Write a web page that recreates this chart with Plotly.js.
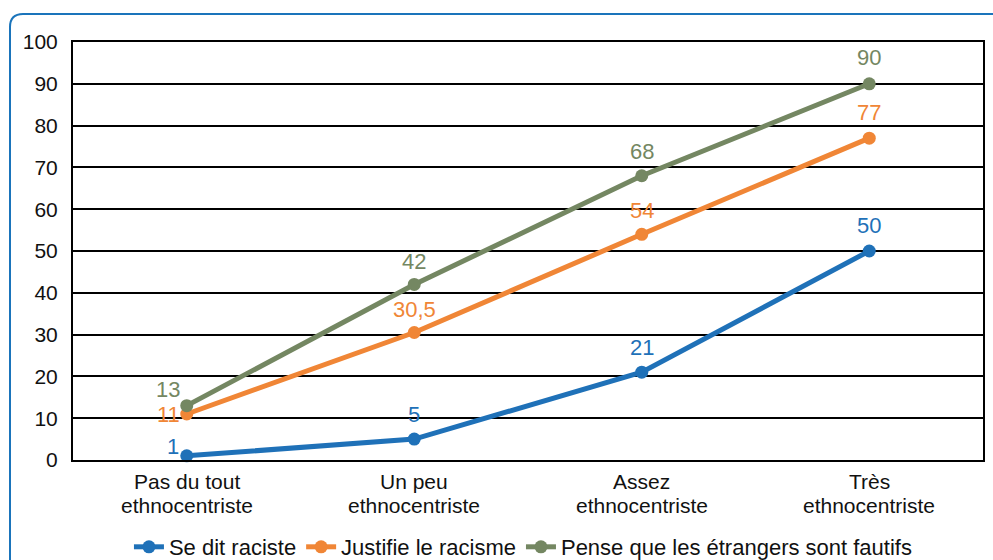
<!DOCTYPE html>
<html>
<head>
<meta charset="utf-8">
<script src="https://cdn.plot.ly/plotly-3.0.1.min.js"></script>
<style>
  html, body { margin: 0; padding: 0; background: #ffffff; }
  #chart { width: 993px; height: 560px; }
</style>
</head>
<body>
<div id="chart"></div>
<script>
// ---- Data ----
const categories = ['Pas du tout<br>ethnocentriste', 'Un peu<br>ethnocentriste', 'Assez<br>ethnocentriste', 'Très<br>ethnocentriste'];
const seriesNames = ['Se dit raciste', 'Justifie le racisme', 'Pense que les étrangers sont fautifs'];
const seDitRaciste = [1, 5, 21, 50];
const justifieRacisme = [11, 30.5, 54, 77];
const penseEtrangersFautifs = [13, 42, 68, 90];
const yTickValues = [0, 10, 20, 30, 40, 50, 60, 70, 80, 90, 100];

// ---- Styles ----
const FONT = "'Liberation Sans', Arial, sans-serif";
const colors = ['#1f71b8', '#f08636', '#748762'];
// label offsets in pixels [dx, dy] relative to each point
const labelOffsets = [
  [[-14, 9], [0, 25], [0, 25], [0, 26]],
  [[-18, 0], [0, 23], [0, 24], [0, 26]],
  [[-19, 16], [0, 23], [0, 24], [0, 26]]
];
const seriesValues = [seDitRaciste, justifieRacisme, penseEtrangersFautifs];

const fmt = v => String(v).replace('.', ',');

const traces = seriesValues.map((vals, i) => ({
  type: 'scatter',
  mode: 'lines+markers',
  name: seriesNames[i],
  x: categories,
  y: vals,
  line: { color: colors[i], width: 5 },
  marker: { color: colors[i], size: 13 },
  cliponaxis: false,
  hoverinfo: 'x+y'
}));

const annotations = [];
// data labels
seriesValues.forEach((vals, i) => {
  vals.forEach((v, k) => {
    annotations.push({
      x: categories[k], xref: 'x', y: v, yref: 'y',
      text: fmt(v), showarrow: false,
      xanchor: 'center', yanchor: 'middle',
      xshift: labelOffsets[i][k][0], yshift: labelOffsets[i][k][1],
      font: { family: FONT, size: 22, color: colors[i] }
    });
  });
});
// category labels as two-line annotations (tight line spacing)
categories.forEach((c) => {
  c.split('<br>').forEach((line, j) => {
    annotations.push({
      x: c, xref: 'x', y: 0, yref: 'paper',
      text: line, showarrow: false,
      xanchor: 'center', yanchor: 'middle',
      yshift: -21 - j * 24,
      font: { family: FONT, size: 21, color: '#111111' }
    });
  });
});

// rounded frame
const fx0 = (10 - 73) / 910, fy1 = (460 - 14) / 418;
const fx1 = (1010 - 73) / 910, fy0 = (460 - 580) / 418;
const rx = 13 / 910, ry = 13 / 418;
const shapes = [{
  type: 'path', xref: 'paper', yref: 'paper',
  path: `M ${fx0},${fy0} L ${fx0},${fy1 - ry} Q ${fx0},${fy1} ${fx0 + rx},${fy1} L ${fx1},${fy1}`,
  line: { color: '#1a74bb', width: 2 },
  layer: 'below'
}];

const layout = {
  width: 993, height: 560,
  margin: { l: 73, r: 10, t: 42, b: 100, pad: 0, autoexpand: false },
  paper_bgcolor: '#ffffff',
  plot_bgcolor: '#ffffff',
  font: { family: FONT, size: 21, color: '#111111' },
  showlegend: true,
  legend: {
    orientation: 'h', xref: 'paper', x: 0.495, xanchor: 'center',
    yref: 'container', y: 1 - 547 / 560, yanchor: 'middle',
    font: { family: FONT, size: 22, color: '#111111' },
    itemwidth: 30, tracegroupgap: 0
  },
  xaxis: {
    type: 'category',
    range: [-0.5, 3.5],
    showticklabels: false,
    showgrid: false,
    showline: true, mirror: true, linecolor: '#000000', linewidth: 2,
    ticks: '', zeroline: false, fixedrange: true
  },
  yaxis: {
    range: [0, 100],
    tickvals: yTickValues,
    ticktext: yTickValues.map(String),
    showgrid: true, gridcolor: '#000000', gridwidth: 1.6,
    showline: true, mirror: true, linecolor: '#000000', linewidth: 2,
    zeroline: false, ticks: 'outside', ticklen: 9, tickcolor: 'rgba(0,0,0,0)',
    tickfont: { family: FONT, size: 21, color: '#111111' },
    fixedrange: true
  },
  annotations: annotations,
  shapes: shapes
};

Plotly.newPlot('chart', traces, layout, { displayModeBar: false });
</script>
</body>
</html>
